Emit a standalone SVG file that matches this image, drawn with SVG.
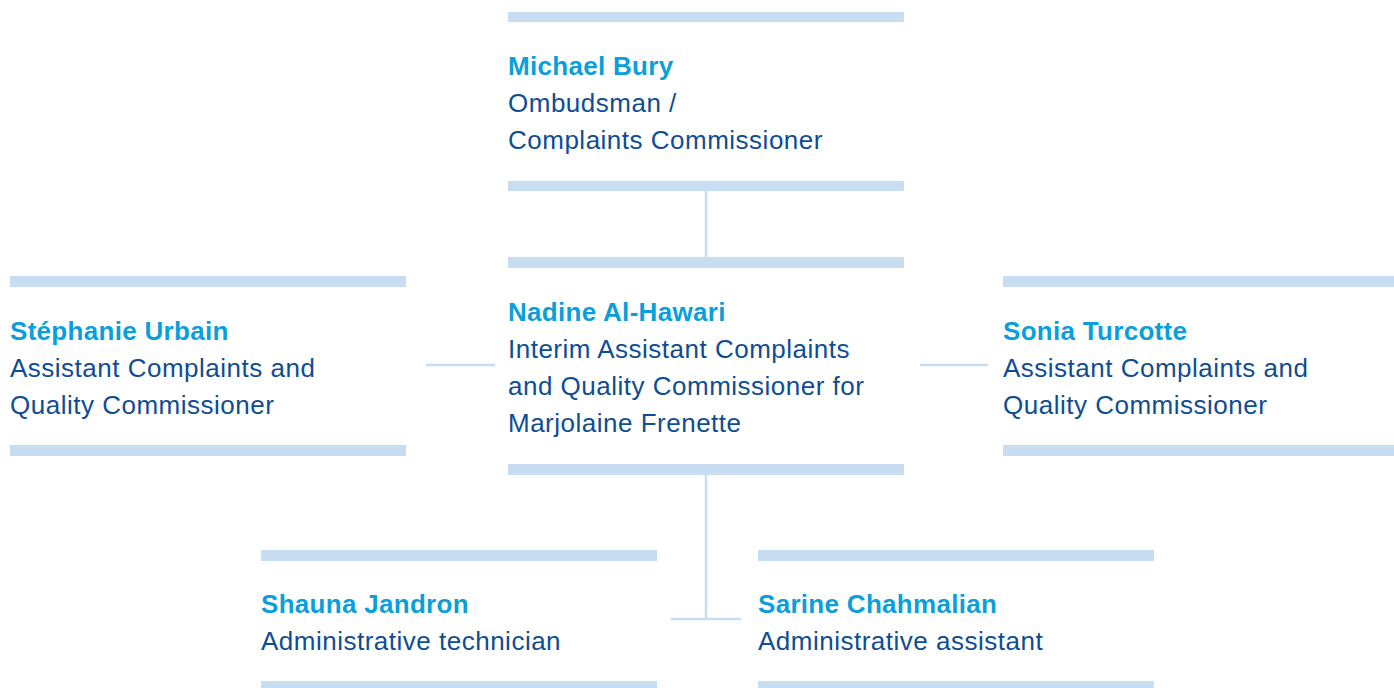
<svg xmlns="http://www.w3.org/2000/svg" width="1394" height="688" viewBox="0 0 1394 688">
  <style>
    .bar { fill: #c9ddf2; }
    .link { stroke: #c9ddf2; stroke-width: 2.5; fill: none; }
    text { font-family: "Liberation Sans", Arial, sans-serif; font-size: 26px; letter-spacing: 0.5px; }
    .name { fill: #0a9fdb; font-weight: bold; letter-spacing: 0.3px; }
    .role { fill: #0f4d93; }
  </style>
  <rect width="1394" height="688" fill="#ffffff"/>

  <g id="connectors">
    <line class="link" x1="706" y1="191" x2="706" y2="257"/>
    <line class="link" x1="426" y1="365" x2="495" y2="365"/>
    <line class="link" x1="920" y1="365" x2="988" y2="365"/>
    <line class="link" x1="706" y1="475" x2="706" y2="619"/>
    <line class="link" x1="671" y1="619" x2="741" y2="619"/>
  </g>

  <g id="michael-bury">
    <rect class="bar" x="508" y="12" width="396" height="10"/>
    <text class="name" x="508" y="75">Michael Bury</text>
    <text class="role" x="508" y="112">Ombudsman /</text>
    <text class="role" x="508" y="149">Complaints Commissioner</text>
    <rect class="bar" x="508" y="181" width="396" height="10"/>
  </g>

  <g id="nadine-al-hawari">
    <rect class="bar" x="508" y="257" width="396" height="11"/>
    <text class="name" x="508" y="321">Nadine Al-Hawari</text>
    <text class="role" x="508" y="358">Interim Assistant Complaints</text>
    <text class="role" x="508" y="395">and Quality Commissioner for</text>
    <text class="role" x="508" y="432">Marjolaine Frenette</text>
    <rect class="bar" x="508" y="464" width="396" height="11"/>
  </g>

  <g id="stephanie-urbain">
    <rect class="bar" x="10" y="276" width="396" height="11"/>
    <text class="name" x="10" y="340">Stéphanie Urbain</text>
    <text class="role" x="10" y="377">Assistant Complaints and</text>
    <text class="role" x="10" y="414">Quality Commissioner</text>
    <rect class="bar" x="10" y="445" width="396" height="11"/>
  </g>

  <g id="sonia-turcotte">
    <rect class="bar" x="1003" y="276" width="391" height="11"/>
    <text class="name" x="1003" y="340">Sonia Turcotte</text>
    <text class="role" x="1003" y="377">Assistant Complaints and</text>
    <text class="role" x="1003" y="414">Quality Commissioner</text>
    <rect class="bar" x="1003" y="445" width="391" height="11"/>
  </g>

  <g id="shauna-jandron">
    <rect class="bar" x="261" y="550" width="396" height="11"/>
    <text class="name" x="261" y="613">Shauna Jandron</text>
    <text class="role" x="261" y="650">Administrative technician</text>
    <rect class="bar" x="261" y="681" width="396" height="11"/>
  </g>

  <g id="sarine-chahmalian">
    <rect class="bar" x="758" y="550" width="396" height="11"/>
    <text class="name" x="758" y="613">Sarine Chahmalian</text>
    <text class="role" x="758" y="650">Administrative assistant</text>
    <rect class="bar" x="758" y="681" width="396" height="11"/>
  </g>
</svg>
